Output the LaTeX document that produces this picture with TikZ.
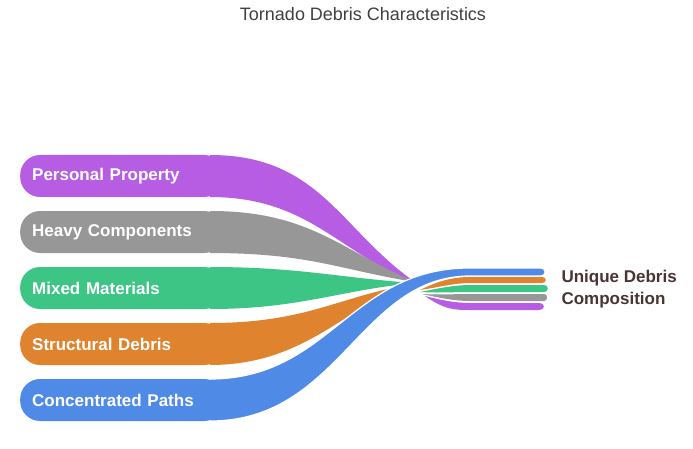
\documentclass[tikz,border=0pt]{standalone}
\usepackage{fontspec}
\setmainfont{Liberation Sans}
\definecolor{cpur}{HTML}{B65DE4}
\definecolor{cgry}{HTML}{979797}
\definecolor{cgrn}{HTML}{3CC585}
\definecolor{corg}{HTML}{E0832F}
\definecolor{cblu}{HTML}{4F8AE6}
\definecolor{ctxt}{HTML}{4A3333}
\begin{document}
\begin{tikzpicture}[x=1pt,y=-1pt,
 band/.style={rounded corners=20pt,minimum width=200pt,minimum height=42pt,anchor=west,text=white,font=\bfseries\fontsize{17}{19}\selectfont,text width=180pt,align=left,inner sep=0pt,inner xsep=12pt}]
\useasboundingbox[fill=white] (0,0) rectangle (693,449);
\node[font=\fontsize{18}{20}\selectfont,text=black!75] (title) at (363,14) {Tornado Debris Characteristics};
% right stubs
\fill[cpur] (425,296) .. controls (445,310) and (455,310) .. (470,310) -- (538,310) .. controls (546,310) and (546,303) .. (538,303) -- (470,303) .. controls (455,303) and (440,300) .. (425,296);
\fill[cgry] (422,294) .. controls (440,295) and (455,294) .. (470,294) -- (544,294) .. controls (548,294) and (548,301) .. (544,301) -- (470,301) .. controls (455,301) and (440,298) .. (422,294);
\fill[cgrn] (420,292) .. controls (440,288) and (455,285) .. (470,285) -- (544,285) .. controls (549,285) and (549,292) .. (544,292) -- (470,292) .. controls (455,292) and (440,293) .. (420,292);
\fill[corg] (420,290) .. controls (440,280) and (455,277) .. (470,277) -- (542,277) .. controls (547,277) and (547,283) .. (542,283) -- (470,283) .. controls (455,283) and (440,287) .. (420,290);
% tails
\fill[cpur] (210,155) .. controls (320,155) and (340,230) .. (415,282) .. controls (340,255) and (310,197) .. (210,197) -- cycle;
\fill[cgry] (210,211) .. controls (310,211) and (340,250) .. (415,282) .. controls (340,270) and (310,253) .. (210,253) -- cycle;
\fill[cgrn] (210,267) .. controls (300,267) and (340,278) .. (415,283) .. controls (340,290) and (300,309) .. (210,309) -- cycle;
\fill[corg] (210,323) .. controls (310,323) and (340,295) .. (415,284) .. controls (350,300) and (310,365) .. (210,365) -- cycle;
% nodes
\node[band,fill=cpur] (pp) at (20,176) {Personal Property};
\node[band,fill=cgry] (hc) at (20,232) {Heavy Components};
\node[band,fill=cgrn] (mm) at (20,288) {Mixed Materials};
\node[band,fill=corg] (sd) at (20,344) {Structural Debris};
\node[band,fill=cblu] (cp) at (20,400) {Concentrated Paths};
% blue crossing band
\fill[cblu,draw=white,line width=1.2pt] (210,379) .. controls (330,379) and (350,268) .. (470,268) -- (540,268) .. controls (547,268) and (547,276) .. (540,276) -- (470,276) .. controls (360,276) and (340,421) .. (210,421) -- cycle;
\fill[cblu] (200,380) rectangle (215,420);
\node[font=\bfseries\fontsize{17}{22}\selectfont,text=ctxt,align=left,anchor=west] (ud) at (558,289) {Unique Debris\\Composition};
\end{tikzpicture}
\end{document}
